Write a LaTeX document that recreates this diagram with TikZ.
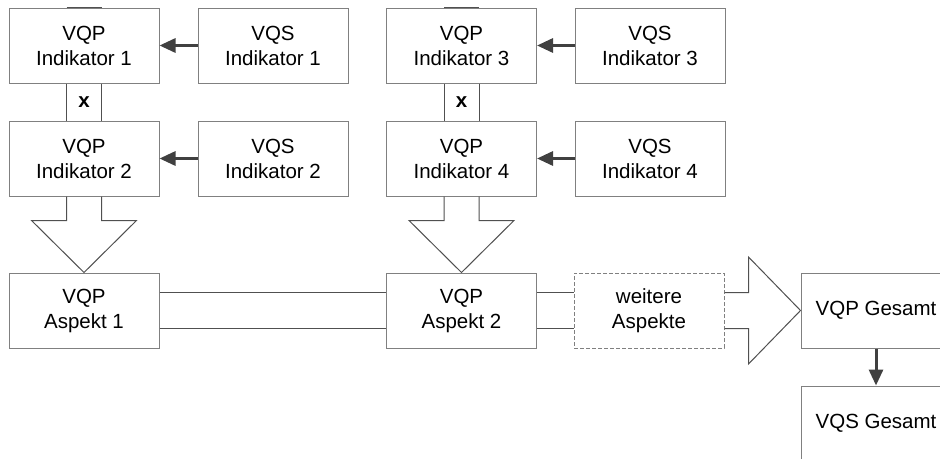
\documentclass[tikz,border=0pt]{standalone}
\usepackage{fontspec}
\setmainfont{Liberation Sans}
\usetikzlibrary{arrows.meta,calc}
\definecolor{boxline}{HTML}{808080}
\definecolor{pipeline}{HTML}{505050}
\definecolor{arrowgray}{HTML}{404040}
\begin{document}
\begin{tikzpicture}[x=1pt,y=-1pt,
  box/.style={draw=boxline, line width=1pt, rectangle, minimum width=150pt,
    minimum height=75pt, inner sep=0pt, align=center,
    font=\fontsize{20.5}{25}\selectfont},
  dashbox/.style={box, dash pattern=on 4pt off 2pt},
  pipe/.style={draw=pipeline, line width=1pt, line join=miter},
  feed/.style={draw=arrowgray, line width=3pt, -{Triangle[length=16pt,width=14pt]}},
  xlabel/.style={font=\bfseries\fontsize{20.5}{25}\selectfont, inner sep=0pt},
]
\clip (0,0) rectangle (940,458);
\fill[white] (0,0) rectangle (940,458);

% indicator boxes
\node[box] (i1) at (84,45.5)    {VQP\\Indikator 1};
\node[box] (s1) at (273,45.5)   {VQS\\Indikator 1};
\node[box] (i2) at (84,158.5)   {VQP\\Indikator 2};
\node[box] (s2) at (273,158.5)  {VQS\\Indikator 2};
\node[box] (i3) at (461.5,45.5) {VQP\\Indikator 3};
\node[box] (s3) at (650,45.5)   {VQS\\Indikator 3};
\node[box] (i4) at (461.5,158.5){VQP\\Indikator 4};
\node[box] (s4) at (650,158.5)  {VQS\\Indikator 4};

% aspect row
\node[box] (a1) at (84,310.5)    {VQP\\Aspekt 1};
\node[box] (a2) at (461.5,310.5) {VQP\\Aspekt 2};
\node[dashbox] (w) at (649,310.5) {weitere\\Aspekte};
\node[box] (g1) at (876,310.5) {VQP Gesamt};
\node[box] (g2) at (876,423.5) {VQS Gesamt};

% VQS -> VQP arrows
\draw[feed] (s1.west) -- (i1.east);
\draw[feed] (s2.west) -- (i2.east);
\draw[feed] (s3.west) -- (i3.east);
\draw[feed] (s4.west) -- (i4.east);
\draw[feed] (g1.south) -- (g2.north);

% short pipe stubs on top of the first indicators
\draw[pipe] ($(i1.north)+(-17.5,0)$) -- ($(i1.north)+(17.5,0)$);
\draw[pipe] ($(i3.north)+(-17.5,0)$) -- ($(i3.north)+(17.5,0)$);

% "x" couplings between indicator pairs
\draw[pipe] ($(i1.south)+(-17.5,0)$) -- ($(i2.north)+(-17.5,0)$);
\draw[pipe] ($(i1.south)+(17.5,0)$)  -- ($(i2.north)+(17.5,0)$);
\node[xlabel] (x1) at ($(i1.south)!0.5!(i2.north)$) {x};
\draw[pipe] ($(i3.south)+(-17.5,0)$) -- ($(i4.north)+(-17.5,0)$);
\draw[pipe] ($(i3.south)+(17.5,0)$)  -- ($(i4.north)+(17.5,0)$);
\node[xlabel] (x2) at ($(i3.south)!0.5!(i4.north)$) {x};

% block arrows down into the aspects
\draw[pipe] ($(i2.south)+(-17.5,0)$) -- ++(0,24) -- ++(-35,0) -- (a1.north)
  -- ($(i2.south)+(52.5,24)$) -- ++(-35,0) -- ($(i2.south)+(17.5,0)$);
\draw[pipe] ($(i4.south)+(-17.5,0)$) -- ++(0,24) -- ++(-35,0) -- (a2.north)
  -- ($(i4.south)+(52.5,24)$) -- ++(-35,0) -- ($(i4.south)+(17.5,0)$);

% double lines joining the aspects
\draw[pipe] ($(a1.east)+(0,-18)$) -- ($(a2.west)+(0,-18)$);
\draw[pipe] ($(a1.east)+(0,18)$)  -- ($(a2.west)+(0,18)$);
\draw[pipe] ($(a2.east)+(0,-18)$) -- ($(w.west)+(0,-18)$);
\draw[pipe] ($(a2.east)+(0,18)$)  -- ($(w.west)+(0,18)$);

% block arrow into the total
\draw[pipe] ($(w.east)+(0,-18)$) -- ++(24,0) -- ++(0,-35.5) -- (g1.west)
  -- ($(w.east)+(24,53.5)$) -- ++(0,-35.5) -- ++(-24,0);
\end{tikzpicture}
\end{document}
